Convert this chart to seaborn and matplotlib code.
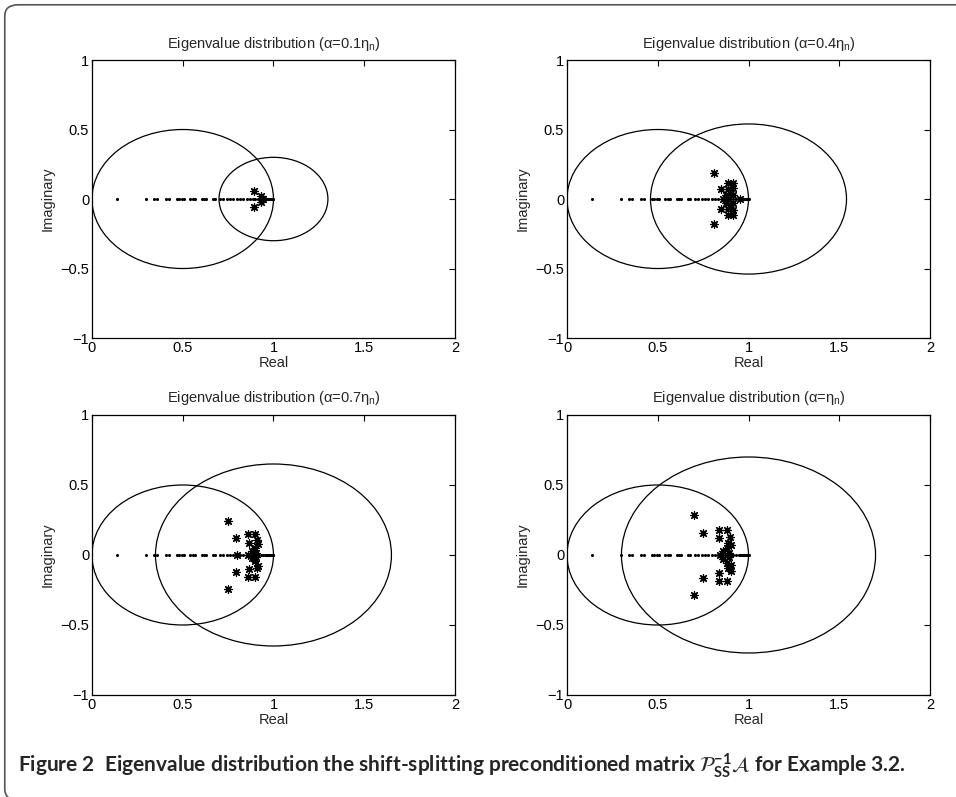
import matplotlib
matplotlib.use("Agg")
import numpy as np
import pandas as pd
import seaborn as sns
import matplotlib.pyplot as plt
from matplotlib.patches import Circle, FancyBboxPatch

# --- data ---
real_eigs = [0.136, 0.297, 0.342, 0.356, 0.408, 0.426, 0.466, 0.481, 0.494, 0.507,
             0.540, 0.555, 0.567, 0.604, 0.617, 0.628, 0.665, 0.678, 0.705, 0.720,
             0.742, 0.760, 0.779, 0.797, 0.815, 0.834, 0.852, 0.870, 0.885, 0.900,
             0.915, 0.930, 0.945, 0.955, 0.960, 0.965, 0.970, 0.975, 0.980, 0.985,
             0.990, 0.995, 1.000]

titles = [r"Eigenvalue distribution ($\alpha$=0.1$\eta_n$)",
          r"Eigenvalue distribution ($\alpha$=0.4$\eta_n$)",
          r"Eigenvalue distribution ($\alpha$=0.7$\eta_n$)",
          r"Eigenvalue distribution ($\alpha$=$\eta_n$)"]

# complex eigenvalues (asterisks) per panel
cplx_re_1 = [0.893, 0.893, 0.932, 0.932, 0.940]
cplx_im_1 = [0.060, -0.060, 0.020, -0.020, 0.000]

cplx_re_2 = [0.808, 0.808, 0.847, 0.847, 0.889, 0.889, 0.916, 0.916, 0.889, 0.889,
             0.916, 0.916, 0.902, 0.902, 0.876, 0.876, 0.861, 0.889, 0.916, 0.916, 0.953]
cplx_im_2 = [0.186, -0.182, 0.070, -0.070, 0.114, -0.114, 0.114, -0.114, 0.071, -0.071,
             0.079, -0.079, 0.043, -0.043, 0.031, -0.031, 0.000, 0.000, 0.031, -0.031, 0.000]

cplx_re_3 = [0.747, 0.747, 0.793, 0.793, 0.797, 0.861, 0.861, 0.898, 0.898, 0.867, 0.867,
             0.907, 0.907, 0.916, 0.916, 0.898, 0.898, 0.880, 0.880, 0.861, 0.905, 0.905]
cplx_im_3 = [0.243, -0.245, 0.124, -0.121, 0.000, 0.148, -0.157, 0.148, -0.157, 0.088, -0.102,
             0.105, -0.090, 0.076, -0.079, 0.052, -0.043, 0.029, -0.019, 0.000, 0.012, -0.012]

cplx_re_4 = [0.700, 0.700, 0.751, 0.751, 0.839, 0.839, 0.883, 0.883, 0.839, 0.839,
             0.898, 0.902, 0.889, 0.889, 0.880, 0.880, 0.861, 0.861, 0.843, 0.905, 0.905,
             0.895, 0.895]
cplx_im_4 = [0.283, -0.288, 0.155, -0.167, 0.179, -0.186, 0.179, -0.186, 0.124, -0.126,
             0.129, -0.114, 0.088, -0.090, 0.052, -0.055, 0.029, -0.029, 0.000, 0.070, -0.070,
             0.015, -0.015]

cplx_re = [cplx_re_1, cplx_re_2, cplx_re_3, cplx_re_4]
cplx_im = [cplx_im_1, cplx_im_2, cplx_im_3, cplx_im_4]

# inclusion discs: fixed one centred at 0.5, shifted one centred at 1
disc1_center, disc1_radius = 0.5, 0.5
disc2_center = 1.0
disc2_radius = [0.30, 0.54, 0.65, 0.70]

# --- style ---
sns.set_theme(style="white")
plt.rcParams["font.family"] = ["Liberation Sans", "DejaVu Sans"]
plt.rcParams["mathtext.default"] = "regular"
plt.rcParams["axes.unicode_minus"] = True

fig = plt.figure(figsize=(9.56, 7.97), dpi=100)

# axes positions in figure fraction (left, bottom, width, height)
positions = [(0.0962, 0.5759, 0.3797, 0.3488),
             (0.5931, 0.5759, 0.3797, 0.3488),
             (0.0962, 0.1280, 0.3797, 0.3513),
             (0.5931, 0.1280, 0.3797, 0.3513)]

for i, pos in enumerate(positions):
    ax = fig.add_axes(pos)
    df_r = pd.DataFrame({"re": real_eigs, "im": [0.0] * len(real_eigs)})
    sns.scatterplot(data=df_r, x="re", y="im", ax=ax, color="black", s=5,
                    marker="o", linewidth=0, legend=False, zorder=3)
    df_c = pd.DataFrame({"re": cplx_re[i], "im": cplx_im[i]})
    sns.scatterplot(data=df_c, x="re", y="im", ax=ax, color="black", s=30,
                    marker=(8, 2, 0), linewidth=0.9, edgecolor="black",
                    legend=False, zorder=4)
    ax.add_patch(Circle((disc1_center, 0), disc1_radius, fill=False,
                        edgecolor="black", linewidth=0.9))
    ax.add_patch(Circle((disc2_center, 0), disc2_radius[i], fill=False,
                        edgecolor="black", linewidth=0.9))

    ax.set_xlim(0, 2)
    ax.set_ylim(-1, 1)
    ax.set_xticks([0, 0.5, 1, 1.5, 2])
    ax.set_xticklabels(["0", "0.5", "1", "1.5", "2"])
    ax.set_yticks([-1, -0.5, 0, 0.5, 1])
    ax.set_yticklabels(["\u22121", "\u22120.5", "0", "0.5", "1"])
    ax.tick_params(direction="in", length=4, width=0.8, labelsize=10.5,
                   top=True, right=True, pad=2, colors="black")
    for sp in ax.spines.values():
        sp.set_visible(True)
        sp.set_color("black")
        sp.set_linewidth(0.9)
    ax.set_xlabel("Real", fontsize=10.5, labelpad=1)
    ax.set_ylabel("Imaginary", fontsize=10.5, labelpad=4)
    ax.set_title(titles[i], fontsize=10.5, pad=9)

# rounded frame; its right and bottom edges fall outside the picture
frame = FancyBboxPatch((0.005, -0.004), 1.05, 0.998,
                       boxstyle="round,pad=0,rounding_size=0.014",
                       transform=fig.transFigure, fill=False,
                       edgecolor="#555555", linewidth=1.2)
fig.patches.append(frame)

fig.text(0.019, 0.031,
         r"Figure 2  Eigenvalue distribution the shift-splitting preconditioned matrix "
         r"$\mathcal{P}_{SS}^{-1}\mathcal{A}$ for Example 3.2.",
         fontsize=15, fontweight="bold", family=["Lato", "DejaVu Sans"],
         ha="left", va="baseline")

fig.savefig("out.png", dpi=100)
